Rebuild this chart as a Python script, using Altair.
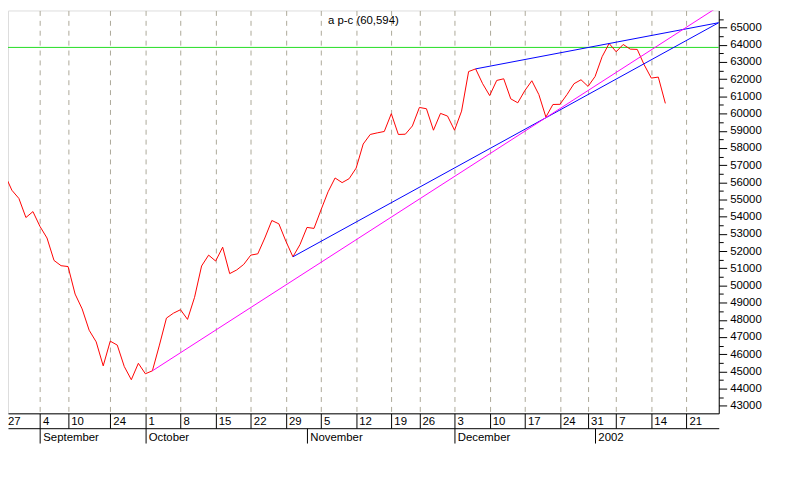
import json
import altair as alt
import pandas as pd

# ---- data (one value per trading session, session 0 = 27 Aug 2001) ----
close = [56444, 55541, 55063, 53953, 54298, 53435, 52762, 51456, 51150, 51100,
         49500, 48637, 47394, 46720, 45322, 46761, 46531, 45282, 44517, 45472,
         44862, 45035, 46531, 48102, 48389, 48590, 48027, 49310, 51134, 51766,
         51421, 52227, 50690, 50903, 51226, 51766, 51841, 52762, 53780, 53585,
         52572, 51669, 52376, 53378, 53320, 54402, 55449, 56254, 55984, 56214,
         56830, 58228, 58786, 58878, 58959, 59994, 58786, 58800, 59281, 60357,
         60282, 59033, 60012, 59856, 59033, 60144, 62445, 62601, 61738, 61047,
         61928, 62025, 60857, 60627, 61335, 61910, 61105, 59799, 60529, 60540,
         61105, 61738, 61968, 61582, 62158, 63308, 64079, 63596, 64022, 63751,
         63734, 62831, 62066, 62123, 60594]
session = list(range(len(close)))

x_domain = [0.45, 101.6]
y_domain = [42560, 66000]

# first week ("27") begins just left of the visible range: its label is placed at the edge
week_pos = [x_domain[0], 5, 9, 15, 20, 25, 30, 35, 40, 45, 50, 55, 59, 64, 69, 74, 79, 83, 87, 92, 97]
week_lab = ["27", "4", "10", "24", "1", "8", "15", "22", "29", "5", "12", "19", "26",
            "3", "10", "17", "24", "31", "7", "14", "21"]
month_pos = [5, 20, 43, 64, 84]
month_lab = ["September", "October", "November", "December", "2002"]

trend_seg = ["lo", "lo", "hi", "hi", "mg", "mg"]
trend_i = [41, 101.6, 67, 101.6, 21, 101.6]
trend_v = [51669, 65288, 62601, 65288, 45035, 66234]

level = [63850]
title_txt = "a p-c (60,594)"

y_major = list(range(43000, 65001, 1000))
y_minor = list(range(43500, 65501, 1000))

# ---- tables ----
price = pd.DataFrame({"i": session, "v": close})
trend = pd.DataFrame({"i": trend_i, "v": trend_v, "seg": trend_seg})
lvl = pd.DataFrame({"v": level})
ttl = pd.DataFrame({"t": [title_txt]})

FONT = "Liberation Sans"
FS = 11.5

xscale = alt.Scale(domain=x_domain, nice=False, zero=False)
yscale = alt.Scale(domain=y_domain, nice=False, zero=False)

week_expr = f"{json.dumps(week_lab)}[indexof({json.dumps(week_pos)}, datum.value)]"
month_expr = f"{json.dumps(month_lab)}[indexof({json.dumps(month_pos)}, datum.value)]"

edge_test = f"datum.value < {x_domain[0] + 0.1}"

week_axis = alt.Axis(
    orient="bottom", values=week_pos, labelExpr=week_expr, title=None,
    grid=True, gridDash=[5, 5],
    gridColor={"condition": {"test": edge_test, "value": "transparent"}, "value": "#aca898"},
    gridWidth=1,
    ticks=True, tickSize=15,
    tickColor={"condition": {"test": edge_test, "value": "transparent"}, "value": "black"},
    tickWidth=1,
    domain=True, domainColor="black", domainWidth=1,
    labelAlign="left", labelBaseline="alphabetic", labelPadding=-3.3,
    labelOffset={"condition": {"test": edge_test, "value": -0.6}, "value": 2.6},
    labelFont=FONT, labelFontSize=FS, labelColor="black",
    labelOverlap=False, labelFlush=False,
)
month_axis = alt.Axis(
    orient="bottom", offset=15, values=month_pos, labelExpr=month_expr, title=None,
    grid=False, ticks=True, tickSize=15, tickColor="black", tickWidth=1,
    domain=True, domainColor="black", domainWidth=1,
    labelAlign="left", labelBaseline="alphabetic", labelPadding=-2.3,
    labelOffset=2.8, labelFont=FONT, labelFontSize=FS, labelColor="black",
    labelOverlap=False, labelFlush=False,
)
y_axis_major = alt.Axis(
    orient="right", values=y_major, format="d", title=None, grid=False,
    ticks=True, tickSize=8, tickColor="black", tickWidth=1,
    domain=True, domainColor="black", domainWidth=1,
    labelPadding=3, labelFont=FONT, labelFontSize=FS, labelColor="black",
    labelOverlap=False, labelFlush=False,
)
y_axis_minor = alt.Axis(
    orient="right", values=y_minor, title=None, grid=False, labels=False,
    ticks=True, tickSize=4.5, tickColor="black", tickWidth=1, domain=False,
)

level_layer = alt.Chart(lvl).mark_rule(color="#22dd22", strokeWidth=1).encode(
    y=alt.Y("v:Q", scale=yscale, axis=y_axis_minor)
)

price_layer = alt.Chart(price).mark_line(color="#ff0000", strokeWidth=1, clip=True).encode(
    x=alt.X("i:Q", scale=xscale, axis=week_axis),
    y=alt.Y("v:Q", scale=yscale, axis=y_axis_major),
)

trend_layer = alt.Chart(trend).mark_line(strokeWidth=1, clip=True).encode(
    x=alt.X("i:Q", scale=xscale, axis=month_axis),
    y=alt.Y("v:Q", scale=yscale, axis=None),
    color=alt.Color("seg:N", scale=alt.Scale(domain=["lo", "hi", "mg"],
                                              range=["#0000ff", "#0000ff", "#ff00ff"]),
                    legend=None),
    detail="seg:N",
)

title_layer = alt.Chart(ttl).mark_text(
    font=FONT, fontSize=FS, color="black", align="center", baseline="alphabetic"
).encode(x=alt.value(359), y=alt.value(14), text="t:N")

chart = alt.layer(level_layer, price_layer, trend_layer, title_layer).resolve_axis(
    x="independent", y="independent"
).properties(
    width=718, height=407,
    autosize=alt.AutoSizeParams(type="none"),
    padding={"left": 0, "top": 0, "right": 74, "bottom": 80},
).configure_view(stroke=None).configure(background="white")

chart.save("out.html", embed_options={"renderer": "svg", "actions": False})
